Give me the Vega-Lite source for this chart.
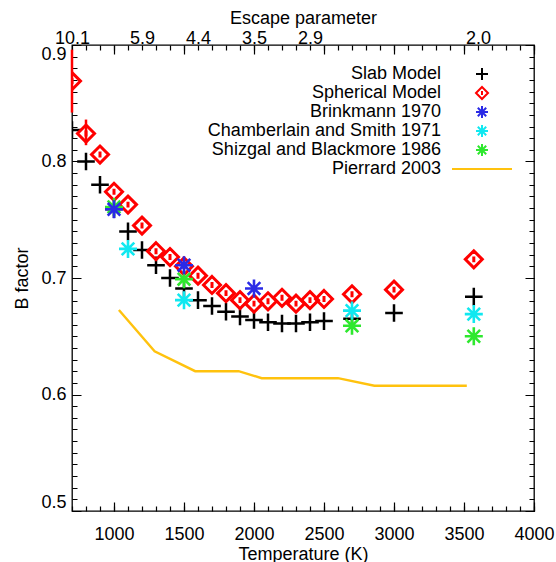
{
  "$schema": "https://vega.github.io/schema/vega-lite/v6.json",
  "width": 462,
  "height": 466,
  "autosize": "none",
  "padding": {"left": 72, "top": 45, "right": 22, "bottom": 51},
  "background": "white",
  "config": {
    "view": {"stroke": "black", "strokeWidth": 1.3, "fill": null},
    "font": "Liberation Sans",
    "axis": {
      "labelFont": "Liberation Sans", "titleFont": "Liberation Sans",
      "labelFontSize": 18, "titleFontSize": 18, "titleFontWeight": "normal",
      "labelColor": "black", "titleColor": "black",
      "domain": false, "ticks": false,
      "gridColor": "#000000", "gridWidth": 1.2, "gridOpacity": 1,
      "labelOverlap": false
    },
    "legend": {
      "orient": "none", "legendX": 401, "legendY": 20,
      "title": null, "padding": 0,
      "labelFont": "Liberation Sans", "labelFontSize": 18, "labelColor": "black",
      "labelAlign": "right", "labelOffset": -50,
      "symbolSize": 144, "symbolStrokeWidth": 2, "symbolOpacity": 1,
      "rowPadding": -5,
      "labelLimit": 400
    }
  },
  "datasets": {
    "models": [
      {"T": 700, "B": 0.827, "series": "Slab Model"},
      {"T": 800, "B": 0.800, "series": "Slab Model"},
      {"T": 900, "B": 0.780, "series": "Slab Model"},
      {"T": 1000, "B": 0.759, "series": "Slab Model"},
      {"T": 1100, "B": 0.740, "series": "Slab Model"},
      {"T": 1200, "B": 0.724, "series": "Slab Model"},
      {"T": 1300, "B": 0.711, "series": "Slab Model"},
      {"T": 1400, "B": 0.700, "series": "Slab Model"},
      {"T": 1500, "B": 0.691, "series": "Slab Model"},
      {"T": 1600, "B": 0.681, "series": "Slab Model"},
      {"T": 1700, "B": 0.676, "series": "Slab Model"},
      {"T": 1800, "B": 0.671, "series": "Slab Model"},
      {"T": 1900, "B": 0.667, "series": "Slab Model"},
      {"T": 2000, "B": 0.664, "series": "Slab Model"},
      {"T": 2100, "B": 0.662, "series": "Slab Model"},
      {"T": 2200, "B": 0.661, "series": "Slab Model"},
      {"T": 2300, "B": 0.661, "series": "Slab Model"},
      {"T": 2400, "B": 0.662, "series": "Slab Model"},
      {"T": 2500, "B": 0.663, "series": "Slab Model"},
      {"T": 2700, "B": 0.665, "series": "Slab Model"},
      {"T": 3000, "B": 0.670, "series": "Slab Model"},
      {"T": 3570, "B": 0.684, "series": "Slab Model"},
      {"T": 700, "B": 0.869, "series": "Spherical Model"},
      {"T": 800, "B": 0.824, "series": "Spherical Model"},
      {"T": 900, "B": 0.806, "series": "Spherical Model"},
      {"T": 1000, "B": 0.774, "series": "Spherical Model"},
      {"T": 1100, "B": 0.763, "series": "Spherical Model"},
      {"T": 1200, "B": 0.745, "series": "Spherical Model"},
      {"T": 1300, "B": 0.723, "series": "Spherical Model"},
      {"T": 1400, "B": 0.718, "series": "Spherical Model"},
      {"T": 1500, "B": 0.710, "series": "Spherical Model"},
      {"T": 1600, "B": 0.702, "series": "Spherical Model"},
      {"T": 1700, "B": 0.694, "series": "Spherical Model"},
      {"T": 1800, "B": 0.687, "series": "Spherical Model"},
      {"T": 1900, "B": 0.681, "series": "Spherical Model"},
      {"T": 2000, "B": 0.678, "series": "Spherical Model"},
      {"T": 2100, "B": 0.680, "series": "Spherical Model"},
      {"T": 2200, "B": 0.683, "series": "Spherical Model"},
      {"T": 2300, "B": 0.678, "series": "Spherical Model"},
      {"T": 2400, "B": 0.681, "series": "Spherical Model"},
      {"T": 2500, "B": 0.682, "series": "Spherical Model"},
      {"T": 2700, "B": 0.686, "series": "Spherical Model"},
      {"T": 3000, "B": 0.690, "series": "Spherical Model"},
      {"T": 3570, "B": 0.716, "series": "Spherical Model"}
    ],
    "references": [
      {"T": 1000, "B": 0.761, "series": "Shizgal and Blackmore 1986"},
      {"T": 1500, "B": 0.699, "series": "Shizgal and Blackmore 1986"},
      {"T": 2700, "B": 0.659, "series": "Shizgal and Blackmore 1986"},
      {"T": 3570, "B": 0.650, "series": "Shizgal and Blackmore 1986"},
      {"T": 1100, "B": 0.725, "series": "Chamberlain and Smith 1971"},
      {"T": 1500, "B": 0.681, "series": "Chamberlain and Smith 1971"},
      {"T": 2700, "B": 0.672, "series": "Chamberlain and Smith 1971"},
      {"T": 3570, "B": 0.669, "series": "Chamberlain and Smith 1971"},
      {"T": 1000, "B": 0.759, "series": "Brinkmann 1970"},
      {"T": 1500, "B": 0.711, "series": "Brinkmann 1970"},
      {"T": 2000, "B": 0.691, "series": "Brinkmann 1970"}
    ],
    "pierrard": [
      {"T": 1035, "B": 0.6725, "series": "Pierrard 2003"},
      {"T": 1290, "B": 0.637, "series": "Pierrard 2003"},
      {"T": 1580, "B": 0.620, "series": "Pierrard 2003"},
      {"T": 1890, "B": 0.620, "series": "Pierrard 2003"},
      {"T": 2055, "B": 0.614, "series": "Pierrard 2003"},
      {"T": 2600, "B": 0.614, "series": "Pierrard 2003"},
      {"T": 2860, "B": 0.6075, "series": "Pierrard 2003"},
      {"T": 3520, "B": 0.6075, "series": "Pierrard 2003"}
    ],
    "errors": [
      {"T": 700, "lo": 0.842, "hi": 0.896},
      {"T": 800, "lo": 0.814, "hi": 0.836}
    ]
  },
  "layer": [
    {
      "data": {"name": "pierrard"},
      "mark": {"type": "line", "strokeWidth": 2.4, "clip": true},
      "encoding": {
        "x": {
          "field": "T", "type": "quantitative",
          "scale": {"domain": [700, 4000], "nice": false, "zero": false},
          "axis": {
            "orient": "bottom",
            "values": [1000, 1500, 2000, 2500, 3000, 3500, 4000],
            "grid": true, "gridDash": [9, 448],
            "labelFlush": false,
            "labelPadding": 14,
            "format": "d",
            "title": "Temperature (K)",
            "titlePadding": 2
          }
        },
        "y": {
          "field": "B", "type": "quantitative",
          "scale": {"domain": [0.5, 0.9], "nice": false, "zero": false},
          "axis": {
            "orient": "left",
            "values": [0.5, 0.6, 0.7, 0.8, 0.9],
            "grid": true, "gridDash": [9, 444],
            "format": ".1f",
            "labelFlush": true,
            "labelPadding": 6,
            "title": "B factor",
            "titlePadding": 9
          }
        },
        "color": {
          "field": "series", "type": "nominal",
          "scale": {
            "domain": ["Slab Model", "Spherical Model", "Brinkmann 1970", "Chamberlain and Smith 1971", "Shizgal and Blackmore 1986", "Pierrard 2003"],
            "range": ["#000000", "#ff0000", "#2a2ae6", "#10e8f0", "#2ee82e", "#ffc20e"]
          }
        }
      }
    },
    {
      "data": {"name": "models"},
      "mark": {"type": "point", "filled": false, "clip": true, "opacity": 1},
      "encoding": {
        "x": {
          "field": "T", "type": "quantitative",
          "scale": {"domain": [700, 4000], "nice": false, "zero": false},
          "axis": {
            "orient": "top",
            "values": [700, 1200, 1600, 2000, 2400, 3600],
            "grid": false,
            "labelExpr": "datum.value === 700 ? '10.1' : datum.value === 1200 ? '5.9' : datum.value === 1600 ? '4.4' : datum.value === 2000 ? '3.5' : datum.value === 2400 ? '2.9' : '2.0'",
            "labelFlush": false,
            "labelPadding": -2,
            "title": "Escape parameter",
            "titlePadding": 2
          }
        },
        "y": {
          "field": "B", "type": "quantitative",
          "scale": {"domain": [0.5, 0.9], "nice": false, "zero": false},
          "axis": null
        },
        "color": {
          "field": "series", "type": "nominal",
          "scale": {
            "domain": ["Slab Model", "Spherical Model", "Brinkmann 1970", "Chamberlain and Smith 1971", "Shizgal and Blackmore 1986", "Pierrard 2003"],
            "range": ["#000000", "#ff0000", "#2a2ae6", "#10e8f0", "#2ee82e", "#ffc20e"]
          }
        },
        "shape": {
          "field": "series", "type": "nominal",
          "scale": {
            "domain": ["Slab Model", "Spherical Model", "Brinkmann 1970", "Chamberlain and Smith 1971", "Shizgal and Blackmore 1986", "Pierrard 2003"],
            "range": [
              "M-1,0L1,0M0,-1L0,1",
              "M0,-1L1,0L0,1L-1,0ZM0,-0.35L0,0.35",
              "M-1,0L1,0M0,-1L0,1M-0.7,-0.7L0.7,0.7M-0.7,0.7L0.7,-0.7",
              "M-1,0L1,0M0,-1L0,1M-0.7,-0.7L0.7,0.7M-0.7,0.7L0.7,-0.7",
              "M-1,0L1,0M0,-1L0,1M-0.7,-0.7L0.7,0.7M-0.7,0.7L0.7,-0.7",
              "M-5,0L5,0"
            ]
          }
        },
        "size": {"condition": {"test": "datum.series === 'Spherical Model'", "value": 289}, "value": 310},
        "strokeWidth": {"condition": {"test": "datum.series === 'Spherical Model'", "value": 3}, "value": 2.5}
      }
    },
    {
      "data": {"name": "errors"},
      "mark": {"type": "rule", "color": "#ff0000", "strokeWidth": 2.5},
      "encoding": {
        "x": {
          "field": "T", "type": "quantitative",
          "scale": {"domain": [700, 4000], "nice": false, "zero": false},
          "axis": {
            "orient": "bottom",
            "values": [700, 800, 900, 1000, 1100, 1200, 1300, 1400, 1500, 1600, 1700, 1800, 1900, 2000, 2100, 2200, 2300, 2400, 2500, 2600, 2700, 2800, 2900, 3000, 3100, 3200, 3300, 3400, 3500, 3600, 3700, 3800, 3900, 4000],
            "grid": true, "gridDash": [5, 456],
            "labels": false, "title": null
          }
        },
        "y": {
          "field": "lo", "type": "quantitative",
          "scale": {"domain": [0.5, 0.9], "nice": false, "zero": false},
          "axis": {
            "orient": "left",
            "values": [0.5, 0.51, 0.52, 0.53, 0.54, 0.55, 0.56, 0.57, 0.58, 0.59, 0.6, 0.61, 0.62, 0.63, 0.64, 0.65, 0.66, 0.67, 0.68, 0.69, 0.7, 0.71, 0.72, 0.73, 0.74, 0.75, 0.76, 0.77, 0.78, 0.79, 0.8, 0.81, 0.82, 0.83, 0.84, 0.85, 0.86, 0.87, 0.88, 0.89, 0.9],
            "grid": true, "gridDash": [5, 452],
            "labels": false, "title": null
          }
        },
        "y2": {"field": "hi"}
      }
    },
    {
      "data": {"name": "references"},
      "mark": {"type": "point", "filled": false, "clip": true, "opacity": 1, "size": 324, "strokeWidth": 2.6},
      "encoding": {
        "x": {
          "field": "T", "type": "quantitative",
          "scale": {"domain": [700, 4000], "nice": false, "zero": false},
          "axis": null
        },
        "y": {
          "field": "B", "type": "quantitative",
          "scale": {"domain": [0.5, 0.9], "nice": false, "zero": false},
          "axis": null
        },
        "color": {
          "field": "series", "type": "nominal",
          "scale": {
            "domain": ["Slab Model", "Spherical Model", "Brinkmann 1970", "Chamberlain and Smith 1971", "Shizgal and Blackmore 1986", "Pierrard 2003"],
            "range": ["#000000", "#ff0000", "#2a2ae6", "#10e8f0", "#2ee82e", "#ffc20e"]
          }
        },
        "shape": {
          "field": "series", "type": "nominal",
          "scale": {
            "domain": ["Slab Model", "Spherical Model", "Brinkmann 1970", "Chamberlain and Smith 1971", "Shizgal and Blackmore 1986", "Pierrard 2003"],
            "range": [
              "M-1,0L1,0M0,-1L0,1",
              "M0,-1L1,0L0,1L-1,0ZM0,-0.35L0,0.35",
              "M-1,0L1,0M0,-1L0,1M-0.7,-0.7L0.7,0.7M-0.7,0.7L0.7,-0.7",
              "M-1,0L1,0M0,-1L0,1M-0.7,-0.7L0.7,0.7M-0.7,0.7L0.7,-0.7",
              "M-1,0L1,0M0,-1L0,1M-0.7,-0.7L0.7,0.7M-0.7,0.7L0.7,-0.7",
              "M-5,0L5,0"
            ]
          }
        }
      }
    }
  ],
  "resolve": {"axis": {"x": "independent", "y": "independent"}}
}
